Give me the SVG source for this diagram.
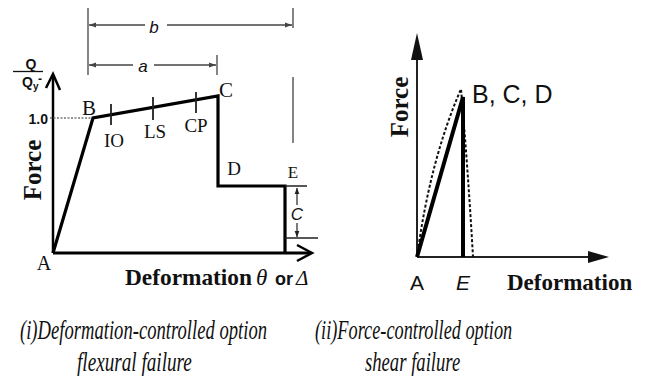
<svg xmlns="http://www.w3.org/2000/svg" width="649" height="376" viewBox="0 0 649 376">
<defs>
<style>
.ax{stroke:#000;stroke-width:2.5;fill:none}
.crv{stroke:#000;stroke-width:3.2;fill:none;stroke-linejoin:miter}
.dim{stroke:#444;stroke-width:1.3;fill:none}
.thin{stroke:#222;stroke-width:1.5;fill:none}
.ser{font-family:"Liberation Serif","Times New Roman",serif;fill:#111}
.sans{font-family:"Liberation Sans",Arial,sans-serif;fill:#111}
.cap{font-family:"Liberation Serif","Times New Roman",serif;font-style:italic;font-size:27px;fill:#111}
</style>
<marker id="da" viewBox="0 0 10 10" refX="10" refY="5" markerWidth="7" markerHeight="7" orient="auto-start-reverse" markerUnits="userSpaceOnUse">
<path d="M0,1.5 L10,5 L0,8.5 Z" fill="#444"/>
</marker>
<marker id="sa" viewBox="0 0 10 10" refX="10" refY="5" markerWidth="6" markerHeight="6" orient="auto-start-reverse" markerUnits="userSpaceOnUse">
<path d="M0,1 L10,5 L0,9 Z" fill="#222"/>
</marker>
</defs>
<rect width="649" height="376" fill="#fff"/>

<g id="left-panel">
<g id="left-axes">
<path class="ax" d="M53,253 V75"/>
<path class="ax" d="M46,88 L53,74 L60,90"/>
<path class="ax" d="M53,253 H311" style="stroke-width:3"/>
<path class="ax" d="M297,245 L312,253 L297,261"/>
</g>
<g id="left-curve">
<path class="crv" d="M53,253 L93,118 L218,96 V186 H285 V253"/>
<path d="M50,118 H92" stroke="#777" stroke-width="1.5" stroke-dasharray="2,1.5"/>
<path class="thin" d="M111,104 V125 M153,97 V120 M196,92 V113" style="stroke-width:1.8"/>
</g>
<g id="left-dims">
<path class="dim" d="M88,8 V75"/>
<path class="dim" d="M217,55 V75"/>
<path class="dim" d="M293,8 V28 M293,77 V143"/>
<path class="dim" d="M145,25 H89" marker-end="url(#da)"/>
<path class="dim" d="M167,25 H292" marker-end="url(#da)"/>
<path class="dim" d="M133,65 H89" marker-end="url(#da)"/>
<path class="dim" d="M154,65 H216" marker-end="url(#da)"/>
<text class="sans" x="154" y="33" font-size="17" font-style="italic" text-anchor="middle">b</text>
<text class="sans" x="143" y="72" font-size="17" font-style="italic" text-anchor="middle">a</text>
<path class="thin" d="M285,186 H307 M285,238 H318" style="stroke-width:1.3"/>
<path class="thin" d="M297,205 V188" marker-end="url(#sa)" style="stroke-width:1.2"/>
<path class="thin" d="M297,223 V237" marker-end="url(#sa)" style="stroke-width:1.2"/>
<text class="sans" x="297" y="220" font-size="17" font-style="italic" text-anchor="middle">C</text>
</g>
<g id="left-labels">
<text class="sans" x="31" y="69" font-size="14" font-weight="bold" text-anchor="middle">Q</text>
<path d="M13,71.5 H43" stroke="#111" stroke-width="1.3"/>
<text class="sans" x="22" y="87" font-size="14" font-weight="bold">Q<tspan font-size="10" dy="3">y</tspan></text>
<text class="sans" x="38" y="83" font-size="12" font-weight="bold">-</text>
<text class="sans" x="48" y="124" font-size="14" font-weight="bold" text-anchor="end">1.0</text>
<text class="ser" x="0" y="0" font-size="25" font-weight="bold" text-anchor="middle" transform="translate(41,170) rotate(-90)">Force</text>
<text class="ser" x="89" y="115" font-size="21" text-anchor="middle">B</text>
<text class="ser" x="226" y="97" font-size="21" text-anchor="middle">C</text>
<text class="ser" x="114" y="147" font-size="19" text-anchor="middle">IO</text>
<text class="ser" x="155" y="138" font-size="19" text-anchor="middle">LS</text>
<text class="ser" x="196" y="132" font-size="19" text-anchor="middle">CP</text>
<text class="ser" x="234" y="175" font-size="19" text-anchor="middle">D</text>
<text class="ser" x="293" y="178" font-size="17" text-anchor="middle">E</text>
<text class="ser" x="44" y="270" font-size="20" text-anchor="middle">A</text>
<text class="ser" x="125" y="285" font-size="23.5" font-weight="bold" textLength="127" lengthAdjust="spacingAndGlyphs">Deformation</text>
<text class="ser" x="256" y="285" font-size="23" font-style="italic">θ</text>
<text class="sans" x="275" y="285" font-size="18" font-weight="bold">or</text>
<text class="ser" x="296" y="285" font-size="21" font-style="italic">Δ</text>
</g>
</g>

<g id="right-panel">
<g id="right-axes">
<path d="M417,257 V55" stroke="#222" stroke-width="2"/>
<path d="M411,60 L417,33 L423,60 Z" fill="#111"/>
<path d="M417,257 H590" stroke="#222" stroke-width="2"/>
<path d="M588,251 L609,257 L588,263 Z" fill="#111"/>
</g>
<g id="right-curve">
<path d="M417,257 Q430,160 461,89 Q468,170 473,257" fill="none" stroke="#111" stroke-width="2" stroke-dasharray="3,2"/>
<path d="M417,257 L463,97 V257" fill="none" stroke="#000" stroke-width="4"/>
</g>
<g id="right-labels">
<text class="sans" x="472" y="103" font-size="25">B, C, D</text>
<text class="ser" x="0" y="0" font-size="25" font-weight="bold" text-anchor="middle" transform="translate(408,107) rotate(-90)">Force</text>
<text class="sans" x="417" y="290" font-size="21" text-anchor="middle">A</text>
<text class="sans" x="463" y="290" font-size="21" font-style="italic" text-anchor="middle">E</text>
<text class="ser" x="507" y="290" font-size="23" font-weight="bold">Deformation</text>
</g>
</g>

<g id="captions">
<text class="cap" transform="translate(20,339) scale(0.69,1)" textLength="358" lengthAdjust="spacingAndGlyphs">(i)Deformation-controlled option</text>
<text class="cap" transform="translate(77,371) scale(0.7,1)" textLength="164" lengthAdjust="spacingAndGlyphs">flexural failure</text>
<text class="cap" transform="translate(315,339) scale(0.68,1)" textLength="290" lengthAdjust="spacingAndGlyphs">(ii)Force-controlled option</text>
<text class="cap" transform="translate(365,371) scale(0.68,1)" textLength="140" lengthAdjust="spacingAndGlyphs">shear failure</text>
</g>
</svg>
